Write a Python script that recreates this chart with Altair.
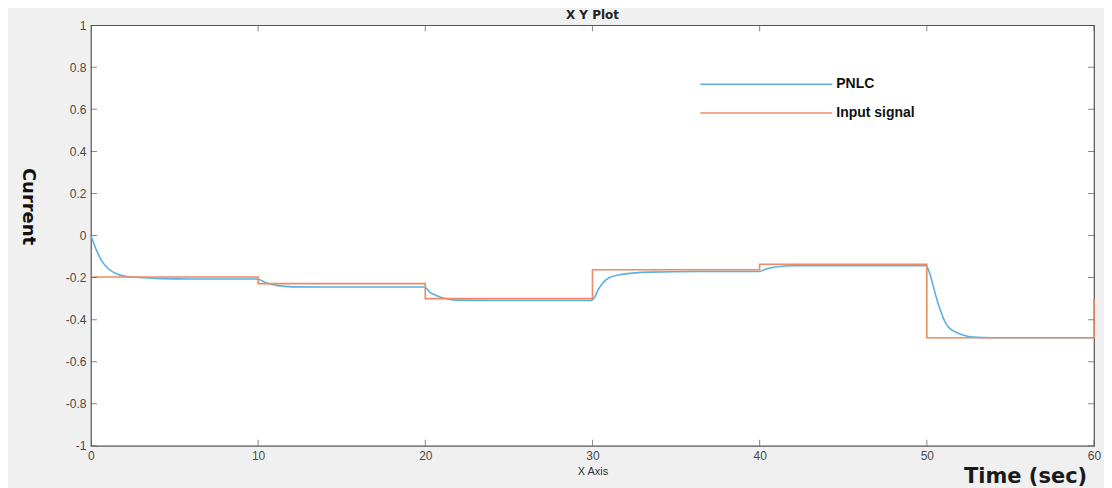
import altair as alt
import pandas as pd

# ---- data ----
x_ticks = [0, 10, 20, 30, 40, 50, 60]
y_ticks = [-1, -0.8, -0.6, -0.4, -0.2, 0, 0.2, 0.4, 0.6, 0.8, 1]

series_names = ["PNLC", "Input signal"]

input_t = [0, 10, 20, 30, 40, 50, 60]
input_v = [-0.197, -0.229, -0.300, -0.163, -0.137, -0.486, -0.301]

pnlc_t = [0, 0.34, 0.64, 1.04, 1.53, 2.13, 3.13, 4.12, 6, 9.9,
          10.1, 10.5, 11.1, 12.1, 14, 19.96,
          20.26, 20.66, 21.26, 21.86, 24, 29.93,
          30.13, 30.32, 30.62, 31.0, 31.6, 32.4, 33.4, 36.4, 40,
          40.3, 40.7, 41.2, 42, 49.95,
          50.15, 50.35, 50.55, 50.75, 51.15, 51.5, 51.75, 52.2, 52.75, 54, 60]
pnlc_v = [0, -0.071, -0.119, -0.158, -0.182, -0.195, -0.201, -0.205, -0.207, -0.207,
          -0.21, -0.226, -0.237, -0.244, -0.245, -0.245,
          -0.269, -0.285, -0.301, -0.307, -0.309, -0.309,
          -0.293, -0.261, -0.226, -0.201, -0.187, -0.179, -0.174, -0.171, -0.171,
          -0.162, -0.153, -0.147, -0.144, -0.143,
          -0.175, -0.23, -0.29, -0.341, -0.42, -0.45, -0.46, -0.474, -0.483, -0.486, -0.486]

line_colors = ["#5aafe3", "#f08a62"]
frame_color = "#555555"

pnlc_df = pd.DataFrame({"t": pnlc_t, "v": pnlc_v, "series": "PNLC"})
input_df = pd.DataFrame({"t": input_t, "v": input_v, "series": "Input signal"})

xt_df = pd.DataFrame({"t": x_ticks * 2, "v": [-1] * len(x_ticks) + [1] * len(x_ticks)})
yt_df = pd.DataFrame({"t": [0] * len(y_ticks) + [60] * len(y_ticks), "v": y_ticks * 2})

x_scale = alt.Scale(domain=[0, 60], nice=False, zero=False)
y_scale = alt.Scale(domain=[-1, 1], nice=False, zero=False)
color_scale = alt.Scale(domain=series_names, range=line_colors)

lab = dict(labelFont="Liberation Sans", labelFontSize=12, labelColor="#4a4a4a",
           grid=False, ticks=False, domain=False, labelFlush=False, labelOverlap=False,
           labelExpr="'' + datum.value")

x_axis = alt.Axis(orient="bottom", values=x_ticks, labelPadding=5, title="X Axis",
                  titleX=502, titleY=26, titleAlign="center", titleBaseline="middle",
                  titleFont="Liberation Sans", titleFontSize=11, titleFontWeight="normal",
                  titleColor="#333333", **lab)
y_axis = alt.Axis(orient="left", values=y_ticks, labelPadding=5, title="Current",
                  titleAngle=90, titleX=-63, titleY=181, titleAlign="center",
                  titleBaseline="middle", titleFont="DejaVu Sans", titleFontSize=18,
                  titleFontWeight="bold", titleColor="#111111", **lab)
time_axis = alt.Axis(orient="bottom", labels=False, ticks=False, domain=False, grid=False,
                     title="Time (sec)", titleX=935, titleY=31, titleAlign="center",
                     titleBaseline="middle", titleFont="DejaVu Sans", titleFontSize=21,
                     titleFontWeight="bold", titleColor="#1a1a1a")

legend = alt.Legend(orient="none", legendX=730, legendY=52, title=None,
                    symbolType="M-25.4,0H1", symbolSize=100,
                    symbolStrokeWidth=1.5, labelFont="Liberation Sans",
                    labelFontSize=14, labelFontWeight="bold",
                    labelColor="#111111", labelOffset=2,
                    rowPadding=15, padding=0)

pnlc_line = alt.Chart(pnlc_df).mark_line(interpolate="monotone", strokeWidth=1.6).encode(
    x=alt.X("t:Q", scale=x_scale, axis=x_axis),
    y=alt.Y("v:Q", scale=y_scale, axis=y_axis),
    color=alt.Color("series:N", scale=color_scale, legend=legend),
)

input_line = alt.Chart(input_df).mark_line(interpolate="step-after", strokeWidth=1.6).encode(
    x=alt.X("t:Q", scale=x_scale, axis=None),
    y=alt.Y("v:Q", scale=y_scale, axis=None),
    color=alt.Color("series:N", scale=color_scale, legend=legend),
)

xticks_layer = alt.Chart(xt_df).mark_tick(orient="vertical", size=12, thickness=1,
                                          color=frame_color, clip=True).encode(
    x=alt.X("t:Q", scale=x_scale, axis=time_axis),
    y=alt.Y("v:Q", scale=y_scale, axis=None),
)

yticks_layer = alt.Chart(yt_df).mark_tick(orient="horizontal", size=12, thickness=1,
                                          color=frame_color, clip=True).encode(
    x=alt.X("t:Q", scale=x_scale, axis=None),
    y=alt.Y("v:Q", scale=y_scale, axis=None),
)

chart = alt.layer(
    pnlc_line, input_line, xticks_layer, yticks_layer
).resolve_axis(
    x="independent", y="independent"
).properties(
    width=1004,
    height=421,
    title=alt.TitleParams("X Y Plot", font="DejaVu Sans", fontSize=12, fontWeight="bold",
                          color="#222222", offset=6, dy=9, anchor="middle"),
    background="#f0f0f0",
    padding={"left": 83, "top": 17, "right": 10, "bottom": 42},
    autosize=alt.AutoSizeParams(type="none"),
).configure_view(
    stroke=frame_color, strokeWidth=1.2, fill="white"
)

chart.save("out.html", embed_options={"renderer": "svg", "actions": False})
